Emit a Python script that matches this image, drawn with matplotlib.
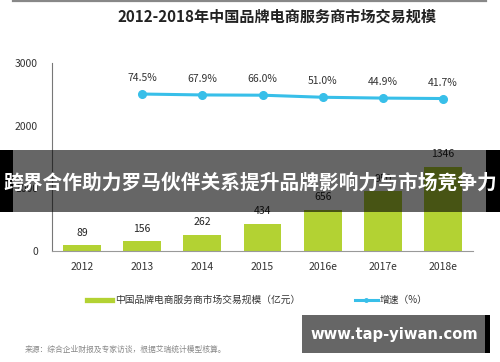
import matplotlib
matplotlib.use("Agg")
import matplotlib.pyplot as plt
from matplotlib.patches import Rectangle
from matplotlib.lines import Line2D

plt.rcParams['font.family'] = ['Noto Sans CJK SC', 'DejaVu Sans']

# data
years = ['2012', '2013', '2014', '2015', '2016e', '2017e', '2018e']
scale = [89, 156, 262, 434, 656, 950, 1346]
growth_years = ['2013', '2014', '2015', '2016e', '2017e', '2018e']
growth = [74.5, 67.9, 66.0, 51.0, 44.9, 41.7]

title = '2012-2018年中国品牌电商服务商市场交易规模'
banner = '跨界合作助力罗马伙伴关系提升品牌影响力与市场竞争力'
legend_bar = '中国品牌电商服务商市场交易规模（亿元）'
legend_line = '增速（%）'
source = '来源：综合企业财报及专家访谈，根据艾瑞统计模型核算。'
watermark = 'www.tap-yiwan.com'

W, H = 500, 362
bar_color = '#b3d233'
line_color = '#38bfe9'

fig = plt.figure(figsize=(5, 3.62), dpi=100)

def fx(px):
    return px / W

def fy(py):
    return 1 - py / H

ax = fig.add_axes([fx(52), fy(251), fx(473) - fx(52), fy(63) - fy(251)])
x = list(range(len(years)))
ax.bar(x, scale, width=0.63, color=bar_color, zorder=2)
for xi, v in zip(x, scale):
    ax.annotate(str(v), (xi, v), xytext=(0, 9), textcoords='offset points',
                ha='center', va='center', fontsize=7.5, color='#222222')

ax.set_xlim(-0.5, 6.5)
ax.set_ylim(0, 3000)
ax.set_yticks([0, 1000, 2000, 3000])
ax.set_xticks(x)
ax.set_xticklabels(years)
ax.tick_params(length=0, labelsize=7.5, colors='#333333')
ax.tick_params(axis='y', pad=10)
ax.tick_params(axis='x', pad=8)
for s in ['top', 'right']:
    ax.spines[s].set_visible(False)
ax.spines['left'].set_color('#777777')
ax.spines['bottom'].set_color('#999999')

# growth line on hidden secondary axis
ax2 = ax.twinx()
gx = [years.index(y) for y in growth_years]
ax2.plot(gx, growth, color=line_color, lw=2.2, marker='o', ms=5.5, zorder=3)
for xi, g in zip(gx, growth):
    ax2.annotate('%.1f%%' % g, (xi, g), xytext=(0, 11.5), textcoords='offset points',
                 ha='center', va='center', fontsize=7.5, color='#333333')
ax2.set_ylim(-1071, 301)
ax2.axis('off')

# title and top rule
fig.add_artist(Line2D([fx(13), fx(486)], [fy(1), fy(1)], color='#888888', lw=1.6))
fig.text(fx(277), fy(17), title, ha='center', va='center', fontsize=10.9,
         fontweight='bold', color='#222222')

# legend
fig.add_artist(Line2D([fx(87), fx(112)], [fy(300), fy(300)], color=bar_color, lw=3.8))
fig.text(fx(115), fy(300), legend_bar, ha='left', va='center', fontsize=7, color='#333333')
fig.add_artist(Line2D([fx(355), fx(378)], [fy(300), fy(300)], color=line_color, lw=2.2))
fig.add_artist(Line2D([fx(366)], [fy(300)], color=line_color, marker='o', ms=2.5))
fig.text(fx(380), fy(300), legend_line, ha='left', va='center', fontsize=7, color='#333333')

# source note
fig.text(fx(25), fy(350), source, ha='left', va='center', fontsize=5.6, color='#888888')

# banner overlay
fig.add_artist(Rectangle((fx(13), fy(212)), fx(473), fy(150) - fy(212),
                         transform=fig.transFigure, color='black', alpha=0.6, lw=0, zorder=10))
fig.add_artist(Rectangle((0, fy(212)), fx(13), fy(150) - fy(212),
                         transform=fig.transFigure, color='black', lw=0, zorder=10))
fig.add_artist(Rectangle((fx(486), fy(212)), fx(14), fy(150) - fy(212),
                         transform=fig.transFigure, color='black', lw=0, zorder=10))
fig.text(0.5, fy(183), banner, ha='center', va='center', fontsize=14.2,
         fontweight='bold', color='white', zorder=11)

# watermark
fig.add_artist(Rectangle((fx(302), fy(353)), fx(183), fy(315) - fy(353),
                         transform=fig.transFigure, color='#666666', lw=0, zorder=10))
fig.add_artist(Rectangle((fx(485), fy(353)), fx(5), fy(315) - fy(353),
                         transform=fig.transFigure, color='black', lw=0, zorder=10))
fig.text(fx(394), fy(334), watermark, ha='center', va='center', fontsize=10.6,
         fontweight='bold', color='white', family=['DejaVu Sans'], zorder=11)

fig.savefig('out.png', dpi=100)
